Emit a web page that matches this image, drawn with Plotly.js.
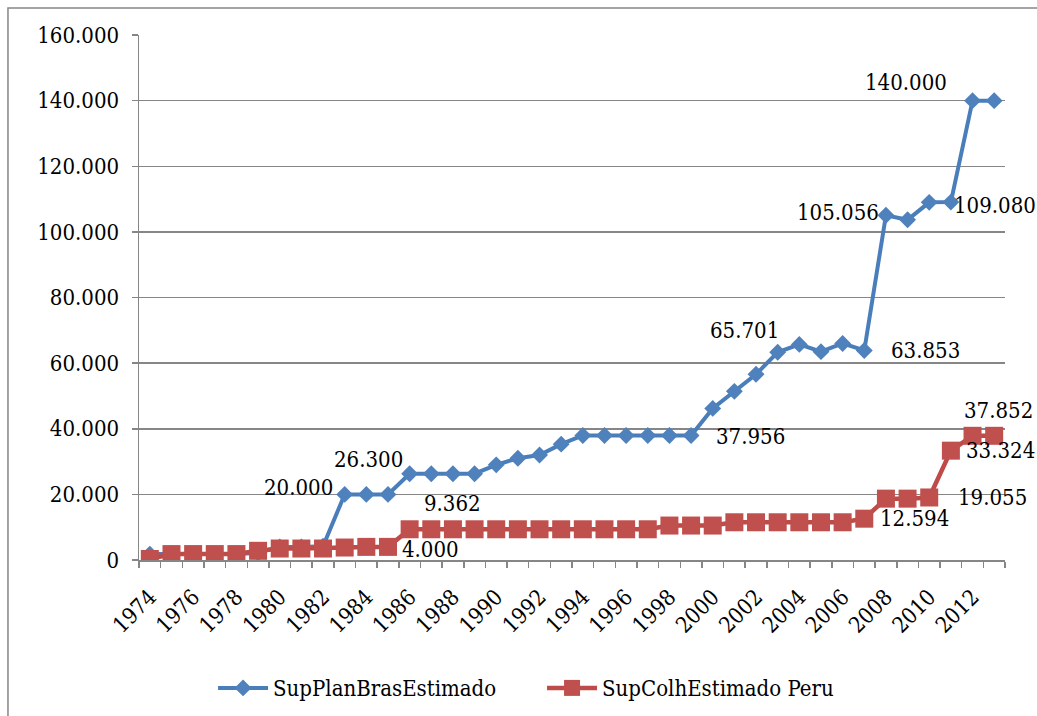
<!DOCTYPE html>
<html>
<head>
<meta charset="utf-8">
<script src="https://cdn.plot.ly/plotly-3.0.1.min.js"></script>
<style>html,body{margin:0;padding:0;background:#fff;}#chart{width:1037px;height:716px;}</style>
</head>
<body>
<div id="chart"></div>
<script>
// ---- data ----
var years = [1974,1975,1976,1977,1978,1979,1980,1981,1982,1983,1984,1985,1986,1987,1988,1989,1990,1991,1992,1993,1994,1995,1996,1997,1998,1999,2000,2001,2002,2003,2004,2005,2006,2007,2008,2009,2010,2011,2012,2013];
var supPlanBras = [1800,1800,1800,1800,1800,2200,4000,4000,4200,20000,20000,20000,26300,26300,26300,26300,29000,31000,32000,35300,37956,37956,37956,37956,37956,37956,46200,51400,56600,63300,65701,63500,66000,63853,105056,103700,109000,109080,140000,140000];
var supColhPeru = [300,1800,1800,1800,1800,2800,3500,3500,3500,3800,4000,4000,9362,9362,9362,9362,9362,9362,9362,9362,9362,9362,9362,9362,10500,10500,10500,11500,11500,11500,11500,11500,11500,12594,18700,18700,19055,33324,37852,37852];
var seriesNames = ['SupPlanBrasEstimado', 'SupColhEstimado Peru'];
var tickYears = [1974,1976,1978,1980,1982,1984,1986,1988,1990,1992,1994,1996,1998,2000,2002,2004,2006,2008,2010,2012];
var blueLabelYears = [1983,1986,1999,2004,2007,2008,2011,2012];
var redLabelYears = [1985,1988,2007,2010,2011,2013];

// ---- label placement (style) ----
var blueLabelPos = {
  1983:{xa:'right',xs:-10,ys:7},
  1986:{xa:'right',xs:-5,ys:14},
  1999:{xa:'left',xs:23,ys:-1},
  2004:{xa:'right',xs:-18,ys:14},
  2007:{xa:'left',xs:25,ys:0},
  2008:{xa:'right',xs:-5,ys:3},
  2011:{xa:'left',xs:1,ys:-3},
  2012:{xa:'right',xs:-24,ys:18}
};
var redLabelPos = {
  1985:{xa:'left',xs:12,ys:-3},
  1988:{xa:'center',xs:0,ys:26},
  2007:{xa:'left',xs:14,ys:0},
  2010:{xa:'left',xs:27,ys:0},
  2011:{xa:'left',xs:13,ys:0},
  2013:{xa:'center',xs:4,ys:25}
};

function fmt(v){ return Math.round(v).toString().replace(/\B(?=(\d{3})+(?!\d))/g,'.'); }

var FONT = '"DejaVu Serif Condensed", "DejaVu Serif", serif';
var FS = 22;
var annotations = [];
blueLabelYears.forEach(function(yr){
  var i = years.indexOf(yr), p = blueLabelPos[yr];
  annotations.push({x:yr, y:supPlanBras[i], xref:'x', yref:'y', text:fmt(supPlanBras[i]), showarrow:false,
    xanchor:p.xa, yanchor:'middle', xshift:p.xs, yshift:p.ys, font:{family:FONT,size:FS,color:'#000'}});
});
redLabelYears.forEach(function(yr){
  var i = years.indexOf(yr), p = redLabelPos[yr];
  annotations.push({x:yr, y:supColhPeru[i], xref:'x', yref:'y', text:fmt(supColhPeru[i]), showarrow:false,
    xanchor:p.xa, yanchor:'middle', xshift:p.xs, yshift:p.ys, font:{family:FONT,size:FS,color:'#000'}});
});

var traces = [
  {x:years, y:supPlanBras, name:seriesNames[0], type:'scatter', mode:'lines+markers',
   line:{color:'#4A7EBB', width:4}, marker:{symbol:'diamond', size:13, color:'#4F81BD'}},
  {x:years, y:supColhPeru, name:seriesNames[1], type:'scatter', mode:'lines+markers',
   line:{color:'#BE4B48', width:4.5}, marker:{symbol:'square', size:18, color:'#C0504D'}}
];

var grid = '#868686';
var layout = {
  width:1037, height:716,
  margin:{l:139, r:32, t:35, b:156, autoexpand:false},
  paper_bgcolor:'#fff', plot_bgcolor:'#fff',
  separators:',.',
  font:{family:FONT, size:FS, color:'#000'},
  showlegend:true,
  legend:{orientation:'h', x:0.0855, xanchor:'left', y:-0.244, yanchor:'middle',
    font:{family:FONT, size:FS, color:'#000'}, itemwidth:50, entrywidth:264, entrywidthmode:'pixels', traceorder:'normal'},
  xaxis:{automargin:false, range:[1973.5,2013.5], tickmode:'array', tickvals:tickYears, ticktext:tickYears.map(String),
    tickangle:-45, ticks:'', showgrid:false, zeroline:false, showline:true, linecolor:grid, linewidth:1.5,
    ticklabelstandoff:14, tickfont:{family:FONT, size:FS, color:'#000'},
    minor:{tick0:1973.5, dtick:1, ticks:'outside', ticklen:6, tickcolor:grid, tickwidth:1.5, showgrid:false}},
  yaxis:{automargin:false, range:[0,160000], dtick:20000, tick0:0, tickformat:',d', ticks:'outside', ticklen:6, tickcolor:grid, tickwidth:1.5,
    showgrid:true, gridcolor:grid, gridwidth:1.5, zeroline:false, showline:true, linecolor:grid, linewidth:1.5,
    ticklabelstandoff:8, tickfont:{family:FONT, size:FS, color:'#000'}},
  annotations:annotations,
  shapes:[{type:'rect', xref:'paper', yref:'paper', x0:-0.1513, x1:1.06, y0:-0.33, y1:1.0514,
    line:{color:'#868686', width:1.5}, fillcolor:'rgba(0,0,0,0)', layer:'below'}]
};

Plotly.newPlot('chart', traces, layout, {displayModeBar:false, staticPlot:true});
</script>
</body>
</html>
